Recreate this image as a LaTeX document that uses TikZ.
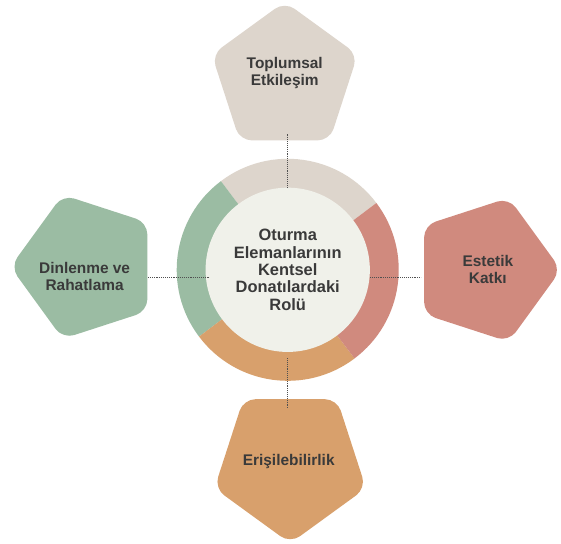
\documentclass[tikz,border=0pt]{standalone}
\usepackage{fontspec}
\setmainfont{Liberation Sans}
\usetikzlibrary{shapes.geometric}

\definecolor{tanc}{HTML}{DDD5CC}
\definecolor{greenc}{HTML}{9BBCA3}
\definecolor{redc}{HTML}{D08A7E}
\definecolor{orangec}{HTML}{D8A06C}
\definecolor{hubc}{HTML}{F0F1EA}
\definecolor{txtc}{HTML}{3A3A3A}
\definecolor{linkc}{HTML}{505050}

\tikzset{
  penta/.style={regular polygon, regular polygon sides=5, inner sep=0pt, outer sep=0pt, rounded corners=12pt},
  lbl/.style={align=center, text=txtc, font=\fontsize{15.5}{17}\selectfont\bfseries},
  link/.style={densely dotted, line width=0.9pt, draw=linkc}
}

\begin{document}
\begin{tikzpicture}[x=1pt, y=1pt]
  \fill[white] (-289, 271) rectangle (272, -272);

  % ring
  \fill[tanc]    (0, 0) -- (37:111.5)  arc[start angle=37,  end angle=127, radius=111.5] -- cycle;
  \fill[greenc]  (0, 0) -- (127:111.5) arc[start angle=127, end angle=217, radius=111.5] -- cycle;
  \fill[orangec] (0, 0) -- (217:111.5) arc[start angle=217, end angle=307, radius=111.5] -- cycle;
  \fill[redc]    (0, 0) -- (307:111.5) arc[start angle=307, end angle=397, radius=111.5] -- cycle;
  \node[circle, fill=hubc, minimum size=165pt, inner sep=0pt, align=center, text=txtc,
        font=\fontsize{16.5}{17.5}\selectfont\bfseries] (hub) at (0, 0)
        {Oturma\\Elemanlarının\\Kentsel\\Donatılardaki\\Rolü};

  % pentagons
  \node[penta, fill=tanc, minimum size=154pt] (topp) at (-3, 192.3) {};
  \node[penta, fill=greenc, minimum size=152pt, shape border rotate=90] (dinp) at (-202.5, 3) {};
  \node[penta, fill=redc, minimum size=152pt, shape border rotate=270] (estp) at (198.5, 0) {};
  \node[penta, fill=orangec, minimum size=160pt, shape border rotate=180] (erip) at (2.5, -194.7) {};

  \node[lbl] (toplbl) at (-3, 198) {Toplumsal\\Etkileşim};
  \node[lbl] (dinlbl) at (-204, -7) {Dinlenme ve\\Rahatlama};
  \node[lbl] (estlbl) at (201, 0) {Estetik\\Katkı};
  \node[lbl] (erilbl) at (1, -193) {Erişilebilirlik};

  % connectors
  \draw[link, shorten >=-6pt] (hub.north) -- (hub.north |- topp.south);
  \draw[link, shorten <=6pt, shorten >=-10pt] (hub.south) -- (hub.south |- erip.north);
  \draw[link, shorten <=-4pt] ([yshift=-8pt]hub.west) -- ([yshift=-8pt]hub.west -| dinp.east);
  \draw[link, shorten >=3pt] ([yshift=-8pt]hub.east) -- ([yshift=-8pt]hub.east -| estp.west);
\end{tikzpicture}
\end{document}
